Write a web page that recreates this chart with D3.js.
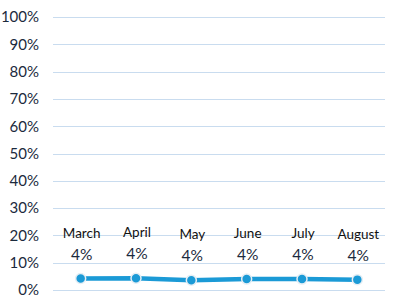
<!DOCTYPE html>
<html><head><meta charset="utf-8">
<script src="https://cdn.jsdelivr.net/npm/d3@7"></script>
<style>body{margin:0;background:#fff}svg{display:block}</style>
</head><body>
<script>
const months = ["March","April","May","June","July","August"];
const values = [0.042,0.043,0.036,0.040,0.040,0.038];
const valueLabels = ["4%","4%","4%","4%","4%","4%"];
const yTicks = [0,0.1,0.2,0.3,0.4,0.5,0.6,0.7,0.8,0.9,1.0];

const W=397,H=300;
const svg=d3.select("body").append("svg").attr("width",W).attr("height",H);
const x=d3.scaleBand().domain(months).range([53,385]);
const y=d3.scaleLinear().domain([0,1]).range([290,17]);

svg.append("g").selectAll("line").data(yTicks).join("line")
  .attr("x1",53).attr("x2",385).attr("y1",d=>Math.round(y(d))+0.5).attr("y2",d=>Math.round(y(d))+0.5)
  .attr("stroke","#c9dcef").attr("stroke-width",1);

const yAxis=d3.axisLeft(y).tickValues(yTicks).tickFormat(d3.format(".0%")).tickSize(0).tickPadding(0);
const ga=svg.append("g").attr("transform","translate(39,0)").call(yAxis);
ga.select(".domain").remove();
ga.selectAll("text").attr("font-family","Lato, 'Open Sans', sans-serif").attr("font-size",15).attr("fill","#1b2a3d");

const cx=d=>x(d)+x.bandwidth()/2;
const line=d3.line().x((d,i)=>cx(months[i])).y(d=>y(d));
svg.append("path").datum(values).attr("d",line).attr("fill","none")
  .attr("stroke","#1b9ad6").attr("stroke-width",4.5);

svg.append("g").selectAll("circle").data(values).join("circle")
  .attr("cx",(d,i)=>cx(months[i])).attr("cy",d=>y(d)).attr("r",5)
  .attr("fill","#1b9ad6").attr("stroke","#e6eef4").attr("stroke-width",1.5);

const lg=svg.append("g").attr("font-family","Lato, 'Open Sans', sans-serif").attr("text-anchor","middle");
lg.selectAll("text.m").data(values).join("text").attr("class","m")
  .attr("x",(d,i)=>cx(months[i])+1).attr("y",d=>y(d)-41)
  .attr("font-size",13.5).attr("fill","#111").text((d,i)=>months[i]);
lg.selectAll("text.v").data(values).join("text").attr("class","v")
  .attr("x",(d,i)=>cx(months[i])+1).attr("y",d=>y(d)-19)
  .attr("font-size",15.5).attr("fill","#1b2a3d").text((d,i)=>valueLabels[i]);
</script>
</body></html>
